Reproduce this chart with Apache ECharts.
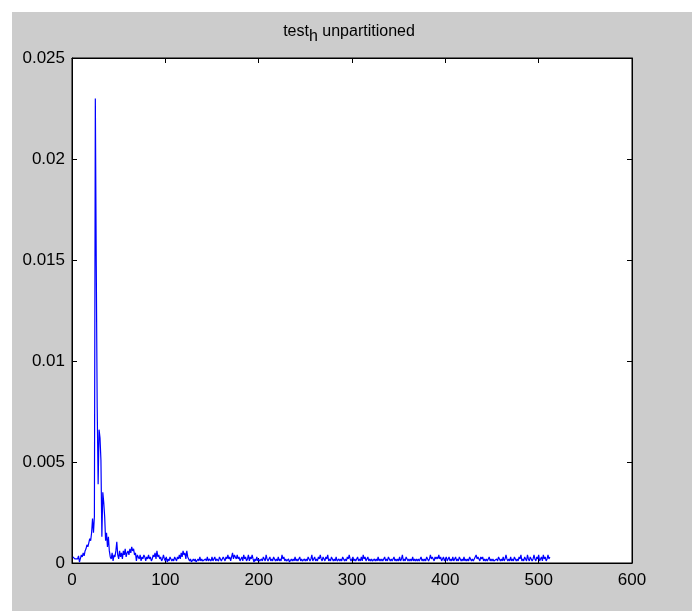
<!DOCTYPE html>
<html>
<head>
<meta charset="utf-8">
<script src="https://cdn.jsdelivr.net/npm/echarts@6/dist/echarts.min.js"></script>
<style>
  html, body { margin: 0; padding: 0; background: #fff; }
  #chart { width: 692px; height: 611px; }
</style>
</head>
<body>
<div id="chart"></div>
<script>
// spectrum values, sample index 1..512
const values = [
  .0003, .00025, .0002, .0002, .00025, .0002, .00035, .00005, .0001, .0004,
  .0003, .0005, .00035, .0006, .0007, .0009, .0008, .001, .0012, .0011,
  .0015, .0022, .0015, .0023, .023, .0147, .0077, .0039, .0066, .0062,
  .0051, .0013, .0035, .003, .0023, .0011, .0015, .0008, .0013, .0006,
  .0003, .0002, .0005, .0001, .0004, .0003, .0006, .00105, .0004, .0002,
  .0006, .0003, .0005, .0002, .0006, .0004, .0007, .0003, .0005, .0006,
  .0004, .0007, .0005, .0008, .0006, .0007, .0004, .0005, .0001, .0004,
  .0003, .0002, .0004, .0001, .0003, .0002, .0004, .0003, .0001, .0003, .0002, .0004, .0002, .0003, .0001, .0002, .0004, .0003, .0005, .0002,
  .0006, .0003, .0004, .0002, .0003, .0001, .0002, .0004, .0002, .0001, .0003, .00005, .0002, .0001, .0003, .0002, .0001, .0002, .0001, .0003,
  .0002, .0001, .0003, .0002, .0004, .0002, .0005, .0003, .0006, .0004, .0005, .0002, .0006, .0003, .0002, .0001, .0002, .00005, .0001, .0002,
  .0001, .0002, .00005, .0001, .0002, .0001, .0003, .0001, .0002, .0001, .00005, .0001, .0002, .0001, .0003, .0001, .0002, .0002, .0001, .0003,
  .0001, .0002, .0003, .0001, .0002, .0002, .0001, .0003, .0002, .0001, .0002, .0003, .0002, .0001, .0003, .0002, .0004, .0002, .0003, .0001,
  .0003, .0005, .0002, .0004, .0003, .0002, .0004, .0002, .0003, .0001, .0002, .0003, .0001, .0004, .0002, .0003, .0001, .0002, .0004, .0001,
  .0003, .0002, .0004, .0002, .00005, .0002, .0001, .0003, .0001, .0002, .0001, .00005, .0002, .0001, .0003, .0002, .0001, .0004, .0002, .0001,
  .0002, .0003, .0001, .0002, .0001, .0003, .0002, .0001, .0002, .0001, .0003, .0001, .0002, .0001, .0004, .0002, .0003, .0001, .0002, .0001,
  .0001, .0002, .00005, .0001, .0002, .0001, .0002, .0001, .0003, .0001, .0002, .0001, .0002, .0003, .0001, .0002, .0001, .00005, .0002, .0001,
  .0002, .0001, .0003, .0002, .0001, .0002, .0004, .0001, .0002, .0003, .0001, .0002, .0001, .0003, .0002, .0004, .0002, .0001, .0003, .0002,
  .0001, .0003, .0002, .0004, .0001, .0002, .0001, .0003, .0002, .0001, .0002, .0001, .0003, .0001, .00005, .0002, .0001, .0002, .0001, .0003,
  .0002, .0001, .0002, .0001, .0003, .0002, .0004, .0002, .0001, .0002, .0003, .0001, .0002, .0001, .0002, .0003, .0001, .0002, .0001, .0003,
  .0001, .0004, .0002, .0003, .0001, .0002, .0003, .0001, .0002, .0001, .0002, .0001, .00005, .0002, .0001, .0002, .0001, .0003, .0001, .0002,
  .0001, .0002, .0001, .0002, .0003, .0001, .0002, .0001, .0003, .0002, .0001, .0002, .0001, .0002, .0003, .0001, .0002, .0001, .0002, .0001,
  .0003, .0001, .0002, .0004, .0001, .0002, .0001, .0003, .0002, .0001, .0002, .0001, .0002, .0001, .0003, .0001, .0002, .0001, .0002, .0001,
  .0002, .0001, .0002, .0003, .0001, .0002, .0001, .0002, .0001, .0003, .0002, .0001, .0002, .0004, .0002, .0003, .0002, .0001, .0003, .0002,
  .0003, .0002, .0004, .0002, .0003, .0001, .0002, .0003, .0001, .0002, .0003, .0001, .0002, .0003, .0001, .0002, .0001, .0003, .0001, .0002,
  .0003, .0001, .0002, .0001, .0003, .0002, .0001, .0002, .0001, .0003, .0001, .0002, .0001, .0002, .0001, .0003, .0002, .0001, .0002, .0001,
  .0002, .0003, .0004, .0002, .0003, .0002, .0001, .0003, .0002, .0003, .0001, .0002, .0001, .0002, .0001, .0002, .0003, .0001, .0002, .0001,
  .0002, .0001, .00005, .0001, .0002, .0001, .0003, .0002, .0001, .0002, .0001, .0003, .0001, .0002, .0004, .0002, .0001, .0002, .0001, .0003,
  .0001, .0002, .0001, .0003, .0002, .0001, .0002, .0001, .0003, .0002, .0004, .0001, .0002, .0001, .0003, .0002, .0001, .0004, .0002, .0001,
  .0003, .0002, .0001, .0002, .0004, .0002, .0001, .0003, .0002, .0004, .0001, .0002, .0003, .0001, .0004, .0002, .0003, .0001, .0002, .0004,
  .0002, .0003
];

const xTicks = { min: 0, max: 600, step: 100 };
const yTicks = { min: 0, max: 0.025, step: 0.005 };

const labelFont = 'Liberation Sans, Arial, sans-serif';
const tickColor = '#000';

const chart = echarts.init(document.getElementById('chart'));

// shared axis look (matlab box: ticks inside on all four sides)
const baseAxis = {
  type: 'value',
  axisLine: { show: true, onZero: false, lineStyle: { color: tickColor, width: 1 } },
  axisTick: { show: true, inside: true, length: 5, lineStyle: { color: tickColor } },
  splitLine: { show: false }
};

const option = {
  animation: false,
  backgroundColor: '#fff',
  graphic: [
    {
      type: 'rect',
      shape: { x: 12, y: 12, width: 692, height: 611 },
      style: { fill: '#cccccc' },
      z: -10,
      silent: true
    }
  ],
  title: {
    text: 'test{sub|h} unpartitioned',
    left: 344,
    textAlign: 'center',
    top: 14,
    textStyle: {
      fontFamily: labelFont,
      fontSize: 16,
      fontWeight: 'normal',
      color: '#000',
      rich: {
        sub: { fontFamily: labelFont, fontSize: 16, color: '#000', padding: [10, 0, 0, 0] }
      }
    }
  },
  grid: {
    left: 72,
    top: 58,
    right: 60,
    bottom: 48,
    show: true,
    backgroundColor: '#fff',
    borderColor: '#000',
    borderWidth: 1
  },
  xAxis: [
    {
      ...baseAxis,
      position: 'bottom',
      min: xTicks.min,
      max: xTicks.max,
      interval: xTicks.step,
      axisLabel: { margin: 9, color: '#000', fontFamily: labelFont, fontSize: 17 }
    },
    {
      ...baseAxis,
      position: 'top',
      min: xTicks.min,
      max: xTicks.max,
      interval: xTicks.step,
      axisLabel: { show: false }
    }
  ],
  yAxis: [
    {
      ...baseAxis,
      position: 'left',
      min: yTicks.min,
      max: yTicks.max,
      interval: yTicks.step,
      axisLabel: {
        margin: 7,
        color: '#000',
        fontFamily: labelFont,
        fontSize: 17,
        formatter: (v) => String(+v.toFixed(3))
      }
    },
    {
      ...baseAxis,
      position: 'right',
      min: yTicks.min,
      max: yTicks.max,
      interval: yTicks.step,
      axisLabel: { show: false }
    }
  ],
  series: [
    {
      type: 'line',
      data: values.map((v, i) => [i + 1, v]),
      xAxisIndex: 0,
      yAxisIndex: 0,
      showSymbol: false,
      symbol: 'none',
      lineStyle: { color: '#0000ff', width: 1.2 },
      itemStyle: { color: '#0000ff' }
    }
  ]
};

chart.setOption(option);
</script>
</body>
</html>
